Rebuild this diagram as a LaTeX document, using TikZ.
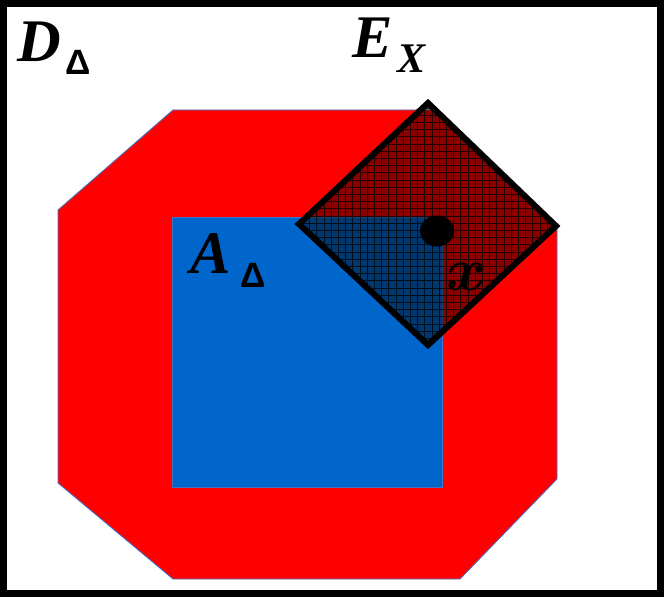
\documentclass[tikz,border=0pt]{standalone}
\usepackage{fontspec}
\usepackage{bm}
\setmainfont{Liberation Serif}
\newfontfamily\deltafont{Liberation Sans}
\definecolor{octred}{HTML}{FF0000}
\definecolor{sqblue}{HTML}{0066CC}
\definecolor{edgeblue}{HTML}{4472C4}

\begin{document}
\begin{tikzpicture}[
    x=0.025cm, y=-0.025cm,
    frame/.style={draw=black, line width=4.7pt},
    octagon/.style={fill=octred, draw=edgeblue, line width=0.6pt},
    square/.style={fill=sqblue, draw=edgeblue, line width=0.5pt},
    diamondshade/.style={fill=black, fill opacity=0.45},
    diamondgrid/.style={draw=black, line width=0.7pt, opacity=0.75},
    diamondedge/.style={draw=black, line width=4.3pt, line join=miter},
    mainlbl/.style={font=\fontsize{43}{48}\selectfont\bfseries\itshape,
        inner sep=0pt, anchor=base west},
    deltalbl/.style={font=\fontsize{25}{28}\selectfont\deltafont\bfseries,
        inner sep=0pt, anchor=base west},
    xlbl/.style={font=\fontsize{30}{34}\selectfont\bfseries\itshape,
        inner sep=0pt, anchor=base west}
]
\useasboundingbox (0,0) rectangle (664,597);

%------------------------------------------------
% outer frame
%------------------------------------------------
\draw[frame] (3.5,3.5) rectangle (660.5,593.5);

%------------------------------------------------
% octagon and inner square
%------------------------------------------------
\draw[octagon] (173,110) -- (436,110) -- (557,226) -- (557,479)
    -- (460,579) -- (173,579) -- (58,483) -- (58,210) -- cycle;
\draw[square] (172,217) rectangle (442,487);

%------------------------------------------------
% shaded diamond
%------------------------------------------------
\coordinate (dtop)    at (428,103);
\coordinate (dleft)   at (299,224);
\coordinate (dright)  at (556,226);
\coordinate (dbottom) at (428,345);

\fill[diamondshade] (dtop) -- (dright) -- (dbottom) -- (dleft) -- cycle;
\begin{scope}
    \clip (dtop) -- (dright) -- (dbottom) -- (dleft) -- cycle;
    \draw[diamondgrid, step=0.18cm] (290,95) grid (565,352);
\end{scope}
\draw[diamondedge] (dtop) -- (dright) -- (dbottom) -- (dleft) -- cycle;

\fill[black] (437,231) ellipse [x radius=17, y radius=15.5];

%------------------------------------------------
% labels
%------------------------------------------------
\node[mainlbl]  (dlbl)   at (17,62)   {D};
\node[deltalbl] (dsub)   at (65,75)   {Δ};
\node[mainlbl]  (elbl)   at (352,58)  {E};
\node[xlbl]     (esub)   at (397,73)  {X};
\node[mainlbl]  (albl)   at (190,273) {A};
\node[deltalbl] (asub)   at (240,287) {Δ};
\node[mainlbl]  (xpoint) at (446,290) {\scalebox{1.75}{\(\bm{x}\)}};

\end{tikzpicture}
\end{document}
